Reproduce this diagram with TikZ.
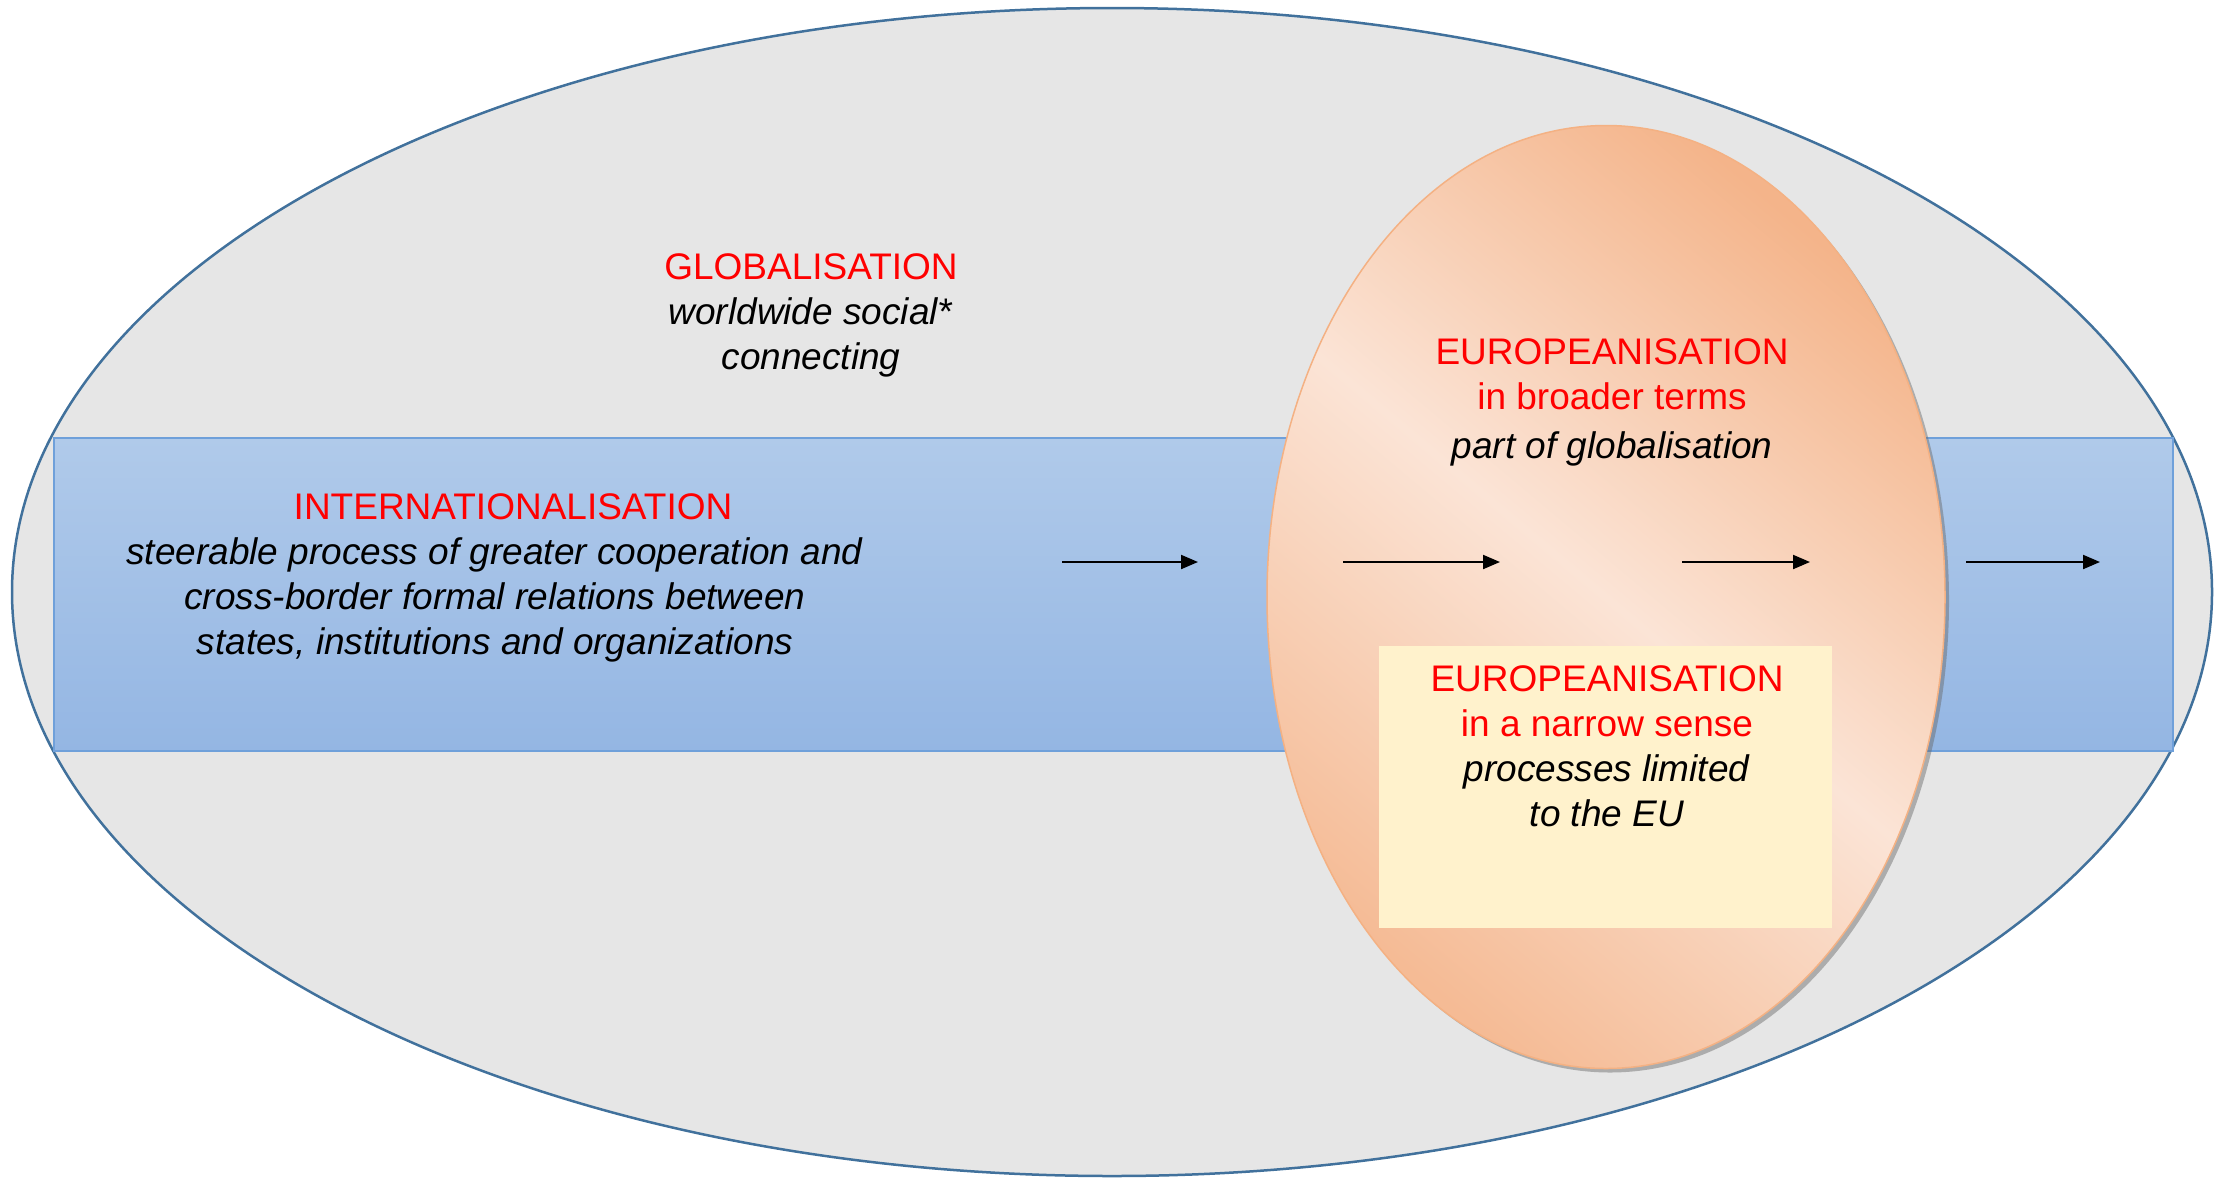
\documentclass[tikz,border=0pt]{standalone}
\usepackage{fontspec}
\setmainfont{Liberation Sans}
\usetikzlibrary{shapes.geometric,shadows,arrows.meta}
\definecolor{globfill}{HTML}{E6E6E6}
\definecolor{globline}{HTML}{41719C}
\definecolor{bluetop}{HTML}{B0CAEA}
\definecolor{bluebot}{HTML}{94B6E3}
\definecolor{blueline}{HTML}{6FA0DA}
\definecolor{peachlight}{HTML}{FBE4D6}
\definecolor{peachdark}{HTML}{F4B48A}
\definecolor{peachline}{HTML}{F4B183}
\definecolor{narrowfill}{HTML}{FFF2CC}
\definecolor{termred}{HTML}{FF0000}
\begin{document}
\begin{tikzpicture}[x=1pt,y=-1pt,
  txt/.style={align=center, font=\fontsize{37}{45}\selectfont, inner sep=0pt},
  flow/.style={line width=2pt, -{Triangle[length=17pt,width=14pt]}}]
\useasboundingbox (0,0) rectangle (2215,1179);
\node[ellipse, draw=globline, line width=2.5pt, fill=globfill,
      minimum width=2200pt, minimum height=1168pt, inner sep=0pt, outer sep=0pt] (glob) at (1112,592) {};
\node[draw=blueline, line width=1.5pt, top color=bluetop, bottom color=bluebot,
      minimum width=2119pt, minimum height=313pt, inner sep=0pt, outer sep=0pt] (intl) at (1113.5,594.5) {};
\node[ellipse, draw=peachline, line width=1.5pt,
      top color=peachdark, bottom color=peachdark!85!peachlight, middle color=peachlight, shading angle=-40,
      minimum width=678pt, minimum height=943pt, inner sep=0pt, outer sep=0pt,
      drop shadow={shadow xshift=4pt, shadow yshift=-4pt, opacity=0.45, fill=black!60}] (euro) at (1606,597) {};
\node[fill=narrowfill, minimum width=453pt, minimum height=282pt, inner sep=0pt, outer sep=0pt] (narrow) at (1605.5,787) {};
\coordinate (a1s) at (1062,562); \coordinate (a1e) at (1198,562);
\coordinate (a2s) at (1343,562); \coordinate (a2e) at (1500,562);
\coordinate (a3s) at (1682,562); \coordinate (a3e) at (1810,562);
\coordinate (a4s) at (1966,562); \coordinate (a4e) at (2100,562);
\draw[flow] (a1s) -- (a1e);
\draw[flow] (a2s) -- (a2e);
\draw[flow] (a3s) -- (a3e);
\draw[flow] (a4s) -- (a4e);
\node[txt] (globtxt) at (811,315) {\textcolor{termred}{GLOBALISATION}\\ \textit{worldwide social*}\\ \textit{connecting}};
\node[txt] (intltxt) at (495,578) {\hspace*{36pt}\textcolor{termred}{INTERNATIONALISATION}\\ \textit{steerable process of greater cooperation and}\\ \textit{cross-border formal relations between}\\ \textit{states, institutions and organizations}};
\node[txt] (eurotxt) at (1612,402) {\textcolor{termred}{EUROPEANISATION}\\ \textcolor{termred}{in broader terms}\\[4pt] \textit{part of globalisation}};
\node[txt] (narrowtxt) at (1607,746) {\textcolor{termred}{EUROPEANISATION}\\ \textcolor{termred}{in a narrow sense}\\ \textit{processes limited}\\ \textit{to the EU}};
\end{tikzpicture}
\end{document}
